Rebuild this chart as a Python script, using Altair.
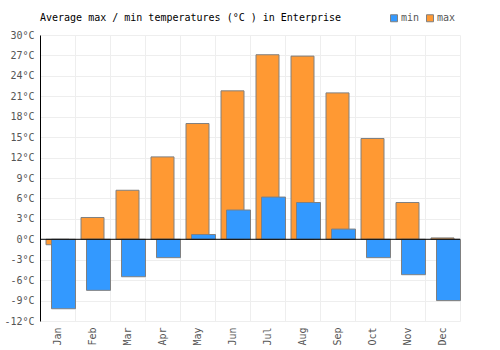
import altair as alt
import pandas as pd

months = ["Jan", "Feb", "Mar", "Apr", "May", "Jun", "Jul", "Aug", "Sep", "Oct", "Nov", "Dec"]
max_temp = [-0.8, 3.2, 7.2, 12.1, 17.0, 21.8, 27.1, 26.9, 21.5, 14.8, 5.4, 0.2]
min_temp = [-10.2, -7.5, -5.5, -2.7, 0.7, 4.3, 6.2, 5.4, 1.5, -2.7, -5.2, -9.0]
y_ticks = list(range(-12, 31, 3))

df_max = pd.DataFrame({"month": months, "value": max_temp, "series": "max"})
df_min = pd.DataFrame({"month": months, "value": min_temp, "series": "min"})

FONT = "DejaVu Sans Mono"
FS = 10

x_enc = alt.X("month:N", sort=months, title=None,
              scale=alt.Scale(paddingInner=0, paddingOuter=0),
              axis=alt.Axis(labelAngle=-90, tickBand="extent", ticks=False, grid=True,
                            gridColor="#eeeeee", domainColor="#eeeeee",
                            labelColor="#555555", labelFont=FONT, labelFontSize=FS,
                            labelPadding=6))
y_scale = alt.Scale(domain=[-12, 30], nice=False, zero=False)
y_enc = alt.Y("value:Q", title=None, scale=y_scale,
              axis=alt.Axis(values=y_ticks, labelExpr="datum.value + '°C'", ticks=False,
                            labelOverlap=False,
                            gridColor="#eeeeee", domainColor="#000000",
                            labelColor="#555555", labelFont=FONT, labelFontSize=FS,
                            labelPadding=6))
color_enc = alt.Color("series:N", title=None,
                      scale=alt.Scale(domain=["min", "max"], range=["#3399FF", "#FF9933"]),
                      legend=alt.Legend(orient="none", legendX=349, legendY=-22,
                                        direction="horizontal", symbolType="square",
                                        symbolSize=49, symbolStrokeColor="#808080",
                                        symbolStrokeWidth=1,
                                        labelFont=FONT, labelFontSize=FS,
                                        labelColor="#555555", columnPadding=4,
                                        labelOffset=2))

bars_max = alt.Chart(df_max).mark_bar(size=23, stroke="#808080", strokeWidth=1).encode(
    x=x_enc, y=y_enc, color=color_enc)
bars_min = alt.Chart(df_min).mark_bar(size=24, xOffset=6, stroke="#808080", strokeWidth=1).encode(
    x=x_enc, y=y_enc, color=color_enc)
zero = alt.Chart(pd.DataFrame({"value": [0]})).mark_rule(color="#000000", strokeWidth=1).encode(
    y=y_enc)

chart = alt.layer(bars_max, bars_min, zero).properties(
    width=420, height=286,
    title=alt.TitleParams("Average max / min temperatures (°C ) in Enterprise",
                          anchor="start", frame="group", font=FONT, fontSize=FS,
                          fontWeight="normal", color="#000000", offset=-10),
    autosize=alt.AutoSizeParams(type="none"),
    padding={"left": 40, "top": 35, "right": 40, "bottom": 29},
).configure_view(stroke=None).configure_axis(gridWidth=1)

chart.save("out.html", embed_options={"renderer": "svg", "actions": False})
